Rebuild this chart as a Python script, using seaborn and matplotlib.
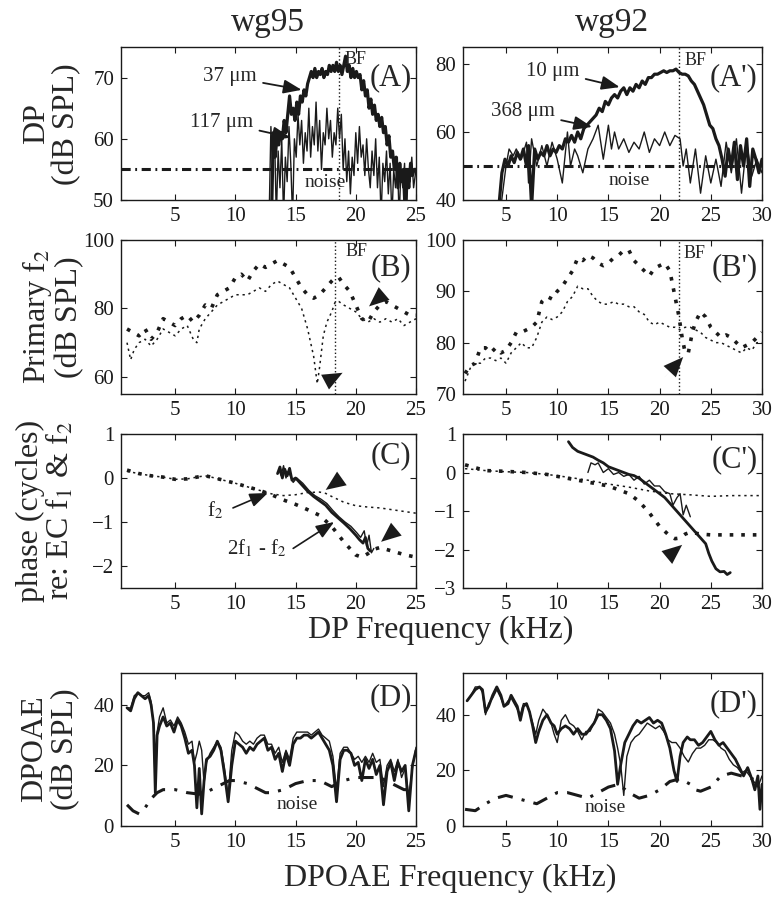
import matplotlib
matplotlib.use("Agg")
import matplotlib.pyplot as plt
import seaborn as sns
import numpy as np

# ---------------- DATA ----------------
# Panel A (wg95) DP level
A_thick_x = [13.0,13.15,13.3,13.45,13.6,13.75,13.9,14.05,14.2,14.35,14.5,14.65,14.8,14.95,15.1,15.25,15.4,15.55,15.7,15.85,16.0,16.15,16.3,16.45,16.6,16.75,16.9,17.05,17.2,17.35,17.5,17.65,17.8,17.95,18.1,18.25,18.4,18.55,18.7,18.85,19.0,19.15,19.3,19.45,19.6,19.75,19.9,20.05,20.2,20.35,20.5,20.65,20.8,20.95,21.1,21.25,21.4,21.55,21.7,21.85,22.0,22.15,22.3,22.45,22.6,22.75,22.9,23.05,23.2,23.35,23.5,23.65,23.8,23.95,24.1,24.25,24.4,24.55,24.7,24.85,25.0]
A_thick_y = [47,61,57,60,59,61,60,63,61,64,67,64,65,63,66,64,67,66,68,67,69,70,71,70,71.5,70,71,70.5,71.5,70,71,70.5,72,71,72,71,72.5,71,72,70.5,72,73.5,71,72,70,71.5,70,71,70,70.5,68,69.5,67,68,65,66.5,64,65.5,63,64,62,63.5,61,62,59,60.5,57,58,55,57,52,56,53,55,48,55,52,56,54,55,55]
A_thin_x = [12.8,12.95,13.1,13.25,13.4,13.55,13.7,13.85,14.0,14.15,14.3,14.45,14.6,14.75,14.9,15.05,15.2,15.35,15.5,15.65,15.8,15.95,16.1,16.25,16.4,16.55,16.7,16.85,17.0,17.15,17.3,17.45,17.6,17.75,17.9,18.05,18.2,18.35,18.5,18.65,18.8,18.95,19.1,19.25,19.4,19.55,19.7,19.85,20.0,20.15,20.3,20.45,20.6,20.75,20.9,21.05,21.2,21.35,21.5,21.65,21.8,21.95,22.1,22.25,22.4,22.55,22.7,22.85,23.0,23.15,23.3,23.45,23.6,23.75,23.9,24.05,24.2,24.35,24.5,24.65,24.8,25.0]
A_thin_y = [47,62,55,61,47,58,52,60,47,57,53,62,56,47,60,57,64,59,63,56,61,58,65,57,62,59,66,58,63,55,61,59,65,60,63,57,61,59,65,60,64,55,60,53,58,51,57,54,61,56,62,57,59,54,60,55,52,58,54,60,52,57,47,56,53,58,51,56,47,55,52,57,47,55,52,56,47,55,53,57,52,55]
A_noise_x = [0.5, 25.0]
A_noise_y = [55, 55]
A_bf = 18.6

# Panel A' (wg92) DP level
Ap_thick_x = [4.3,4.6,4.9,5.2,5.5,5.8,6.1,6.4,6.7,7.0,7.2,7.5,7.8,8.1,8.4,8.7,9.0,9.3,9.6,9.9,10.2,10.5,10.8,11.1,11.4,11.7,12.0,12.3,12.6,12.9,13.2,13.5,13.8,14.1,14.4,14.7,15.0,15.3,15.6,15.9,16.2,16.5,16.8,17.1,17.4,17.7,18.0,18.3,18.6,18.9,19.2,19.5,19.8,20.1,20.4,20.7,21.0,21.3,21.6,21.9,22.2,22.5,22.8,23.1,23.4,23.7,24.0,24.3,24.6,24.9,25.2,25.5,25.8,26.1,26.4,26.7,27.0,27.3,27.6,27.9,28.2,28.5,28.8,29.1,29.4,29.7,30.0]
Ap_thick_y = [38,48,52,50,53,51,54,52,55,50,56,38,55,52,54,53,56,53,55,54,56,55,58,57,59,57,60,58,61,62,63,64,65,67,66,69,68,70,71,70,72,73,71,73,72,74,73,75,74,76,76,77,77,77.5,78,77.5,78,78,78.5,77.5,77,77,76.5,75,74,72,70,68,65,62,61,58,56,52,47,55,50,57,46,56,50,58,44,55,52,48,52]
Ap_thin_x = [4.5,5.0,5.3,5.7,6.0,6.5,7.0,7.2,7.5,8.0,8.5,9.0,9.5,10.0,10.5,11.0,11.3,11.7,12.0,12.5,13.0,13.5,14.0,14.5,15.0,15.3,15.6,16.0,16.5,17.0,17.5,18.0,18.5,19.0,19.5,20.0,20.5,21.0,21.5,22.0,22.3,22.6,23.0,23.5,24.0,24.5,25.0,25.5,26.0,26.5,27.0,27.5,28.0,28.5,29.0,29.5,30.0]
Ap_thin_y = [38,50,55,53,55,52,57,45,58,50,56,50,57,52,45,60,50,55,53,48,55,58,62,52,62,55,60,55,58,54,57,55,60,54,58,56,60,56,59,58,50,55,45,55,42,53,45,52,44,57,48,58,42,57,47,52,48]
Ap_noise_x = [0.8, 30.0]
Ap_noise_y = [50, 50]
Ap_bf = 21.9

# Panel B (wg95) primary f2 level
B_x = [1.0,1.5,2.0,2.5,3.0,3.5,4.0,4.5,5.0,5.5,6.0,6.5,7.0,7.5,8.0,8.5,9.0,9.5,10.0,10.5,11.0,11.5,12.0,12.5,13.0,13.5,14.0,14.5,15.0,15.5,16.0,16.5,17.0,17.5,18.0,18.3,18.6,19.0,19.5,20.0,20.5,21.0,21.5,22.0,22.5,23.0,23.5,24.0,24.5,25.0]
B_upper = [74,73,72,74,71,73,77,76,75,77,78,76,78,81,80,84,85,86,89,90,88,91,93,92,93,94,93,92,89,86,84,83,84,86,88,89,89,87,85,81,77,76,79,81,82,81,80,79,78,78]
B_lower_x = [1.0,1.3,1.6,2.0,2.5,3.0,3.5,4.0,4.5,5.0,5.5,6.0,6.5,6.8,7.0,7.5,8.0,8.5,9.0,9.5,10.0,10.5,11.0,11.5,12.0,12.5,13.0,13.5,14.0,14.5,15.0,15.5,16.0,16.5,16.8,17.0,17.3,17.6,18.0,18.3,18.6,19.0,19.5,20.0,20.5,21.0,21.5,22.0,22.5,23.0,23.5,24.0,24.5,25.0]
B_lower = [70,65,68,70,71,69,71,74,73,72,74,75,71,70,74,77,79,81,82,83,84,84,84,85,86,85,87,88,87,86,83,80,74,66,58,63,72,76,79,82,82,81,80,79,77,76,77,76,77,76,77,75,76,77]
B_bf = 18.3

# Panel B' (wg92)
Bp_x = [1.0,1.5,2.0,2.5,3.0,3.5,4.0,4.5,5.0,5.5,6.0,6.5,7.0,7.5,8.0,8.5,9.0,9.5,10.0,10.5,11.0,11.5,12.0,12.5,13.0,13.5,14.0,14.5,15.0,15.5,16.0,16.5,17.0,17.5,18.0,18.5,19.0,19.5,20.0,20.5,21.0,21.3,21.6,21.9,22.2,22.5,22.8,23.2,23.5,24.0,24.5,25.0,25.5,26.0,26.5,27.0,27.5,28.0,28.5,29.0,29.5,30.0]
Bp_upper = [74,75.5,76,79,79,78,79,78,78.5,80,82,82,82.5,83,84,88,89,88.5,90,91,92.5,94,96.5,96,97,96.5,95.5,95,95.5,96.5,97,98,98,96,95,94,93,94.5,95,95.5,94,91,88,85,81,78,78,82,84,86,85,83,82,81,81.5,81,80,79,79.5,80,81,82]
Bp_lower_x = [1.0,1.5,2.0,2.5,3.0,3.5,4.0,4.5,5.0,5.5,6.0,6.5,7.0,7.5,8.0,8.5,9.0,9.5,10.0,10.5,11.0,11.5,12.0,12.5,13.0,13.5,14.0,14.5,15.0,15.5,16.0,16.5,17.0,17.5,18.0,18.5,19.0,19.5,20.0,20.5,21.0,21.5,22.0,22.5,23.0,23.5,24.0,24.5,25.0,25.5,26.0,26.5,27.0,27.5,28.0,28.5,29.0,29.5,30.0]
Bp_lower = [72.5,75,76,76,77,77,76.5,77,76,78,79,80,79,79,81,84,85,84.5,85,86,88,89,91,90.5,90.5,89,88,87.5,87.5,88,87.5,87.5,87,87,86,85.5,84,83.5,84,83.5,83,83,82.5,83,83,82.5,82,81,80.5,80,80,79.5,79,78.5,78,79,78.5,80,80]
Bp_bf = 21.9

# Panel C (wg95) phase
C_f2_x = [1,2,3,4,5,6,7,7.5,8,9,10,11,12,13,14,15,16,17,17.5,18,19,20,21,22,23,24,25]
C_f2_y = [0.15,0.1,0.05,0.02,-0.03,-0.02,0.03,0.05,0.02,-0.05,-0.12,-0.2,-0.28,-0.36,-0.4,-0.38,-0.33,-0.32,-0.35,-0.42,-0.55,-0.63,-0.66,-0.68,-0.72,-0.76,-0.8]
C_dp_x = [1,2,3,4,5,6,7,7.5,8,9,10,11,12,13,14,15,16,17,18,19,20,20.5,21,21.5,22,23,24,25]
C_dp_y = [0.18,0.1,0.05,0.02,-0.03,-0.02,0.03,0.05,0.02,-0.05,-0.12,-0.2,-0.28,-0.38,-0.5,-0.6,-0.72,-0.85,-1.1,-1.45,-1.75,-1.8,-1.72,-1.62,-1.58,-1.66,-1.74,-1.8]
C_thick_x = [13.5,13.7,13.9,14.1,14.3,14.5,14.7,15.0,15.5,16.0,16.5,17.0,17.5,18.0,18.5,19.0,19.5,20.0,20.3,20.6,20.8,21.0,21.2]
C_thick_y = [0.1,0.25,0.0,0.2,0.05,0.22,-0.05,0.0,-0.15,-0.3,-0.42,-0.52,-0.62,-0.78,-0.9,-1.02,-1.15,-1.3,-1.4,-1.48,-1.35,-1.6,-1.66]
C_thin_x = [13.6,13.8,14.0,14.2,14.4,14.6,14.8,15.1,15.6,16.1,16.6,17.1,17.6,18.1,18.6,19.1,19.6,20.1,20.4,20.7,20.9,21.1,21.3,21.5]
C_thin_y = [0.2,0.05,0.28,0.0,0.15,0.02,-0.1,0.0,-0.12,-0.28,-0.4,-0.48,-0.58,-0.74,-0.88,-1.0,-1.1,-1.25,-1.35,-1.2,-1.55,-1.3,-1.7,-1.6]

# Panel C' (wg92)
Cp_f2_x = [1,3,5,7,9,11,13,15,17,19,21,23,25,27,30]
Cp_f2_y = [0.1,0.05,0.02,0.0,-0.05,-0.12,-0.2,-0.3,-0.38,-0.48,-0.55,-0.58,-0.62,-0.6,-0.6]
Cp_dp_x = [1,3,5,7,9,10,11,12,13,14,15,16,17,18,19,20,21,21.5,22,22.5,23,24,25,27,30]
Cp_dp_y = [0.2,0.05,0.03,0.0,-0.05,-0.1,-0.15,-0.2,-0.25,-0.3,-0.35,-0.45,-0.55,-0.75,-1.05,-1.4,-1.65,-1.72,-1.7,-1.6,-1.55,-1.6,-1.62,-1.62,-1.62]
Cp_thick_x = [11.1,11.5,12,12.5,13,13.5,14,14.5,15,15.5,16,16.5,17,17.5,18,18.5,19,19.5,20,20.5,21,21.5,22,22.5,23,23.5,24,24.5,24.8,25.1,25.5,25.9,26.3,26.6,26.9]
Cp_thick_y = [0.8,0.65,0.55,0.5,0.45,0.4,0.32,0.25,0.15,0.1,0.05,0.0,-0.05,-0.08,-0.15,-0.25,-0.35,-0.45,-0.55,-0.65,-0.8,-0.95,-1.1,-1.25,-1.4,-1.55,-1.7,-1.85,-2.1,-2.3,-2.5,-2.58,-2.57,-2.65,-2.6]
Cp_thin_x = [13.0,13.3,13.7,14.0,14.5,15.0,15.5,16.0,16.5,17.0,17.5,18.0,18.5,19.0,19.5,20.0,20.5,21.0,21.3,21.7,22.0,22.3,22.6,23.0]
Cp_thin_y = [0.0,0.25,0.2,0.25,0.0,0.1,-0.05,0.0,-0.1,-0.05,-0.2,-0.1,-0.3,-0.2,-0.35,-0.35,-0.5,-0.55,-0.85,-0.65,-0.55,-1.1,-0.85,-1.15]

# Panel D (wg95) DPOAE
D_x = [1.0,1.3,1.6,1.9,2.2,2.5,2.8,3.0,3.2,3.35,3.5,3.7,4.0,4.3,4.6,4.9,5.2,5.5,5.8,6.1,6.4,6.6,6.8,7.0,7.2,7.4,7.6,7.9,8.2,8.5,8.8,9.1,9.4,9.7,10.0,10.3,10.6,10.9,11.2,11.5,11.8,12.1,12.4,12.7,13.0,13.3,13.6,13.9,14.2,14.5,14.8,15.1,15.4,15.7,16.0,16.3,16.6,16.9,17.2,17.5,17.8,18.1,18.4,18.7,19.0,19.3,19.6,19.9,20.2,20.5,20.8,21.1,21.4,21.7,22.0,22.3,22.6,22.9,23.2,23.5,23.8,24.1,24.4,24.7,25.0]
D_thick = [39,38,42,44,43,42,43,40,34,11,30,33,36,33,34,31,35,33,29,24,25,20,6,19,4,15,22,23,25,28,25,17,8,20,28,27,26,24,26,25,27,28,29,25,26,22,24,18,24,20,27,29,29,30,30,29,30,31,29,27,25,20,8,22,25,25,24,20,21,15,22,19,22,17,20,7,18,21,15,21,18,20,5,20,25]
D_thin = [39,39,43,44,43,43,44,41,33,12,31,36,39,34,35,33,36,34,31,27,28,21,24,28,25,14,21,24,26,28,26,19,10,25,31,30,28,27,28,27,29,30,30,27,27,24,26,21,25,22,29,31,31,31,31,30,31,32,30,29,28,23,12,24,26,26,24,22,23,21,23,21,24,21,22,13,20,22,18,22,16,19,10,19,26]
D_noise_x = [1.0,1.5,2.0,2.5,3.0,3.5,4.0,5.0,5.5,6.0,7.0,7.5,8.0,9.0,9.5,10.0,11.0,12.0,12.5,13.0,14.0,15.0,16.0,17.0,17.5,18.0,19.0,20.0,21.0,22.0,23.0,24.0,25.0]
D_noise = [7,5,4,6,9,11,12,12,11.5,11,10.5,11,12,14,15,15,14,12,11,11,12,14,15,15,14,13,15,16,16,16,14,12,12]

# Panel D' (wg92)
Dp_x = [1.2,1.6,2.0,2.4,2.7,3.0,3.3,3.7,4.1,4.5,4.8,5.2,5.5,5.8,6.1,6.4,6.7,7.0,7.3,7.6,7.9,8.2,8.6,9.0,9.4,9.7,10.0,10.4,10.8,11.2,11.6,12.0,12.4,12.8,13.2,13.6,14.0,14.4,14.8,15.2,15.6,15.9,16.2,16.6,17.0,17.4,17.8,18.2,18.6,19.0,19.4,19.8,20.2,20.6,21.0,21.4,21.7,22.0,22.3,22.7,23.0,23.4,23.8,24.2,24.6,25.0,25.4,25.8,26.2,26.6,27.0,27.4,27.8,28.2,28.6,29.0,29.3,29.6,29.8,30.0]
Dp_thick = [45,47,49,50,49,41,43,47,50,47,43,44,47,45,43,38,43,44,41,36,30,34,38,40,37,36,33,35,36,35,33,35,33,33,35,37,40,40,38,35,27,15,22,30,33,36,38,37,38,39,37,38,37,33,28,20,16,25,30,32,31,31,29,30,32,34,31,29,30,28,26,24,21,18,21,17,13,18,6,15]
Dp_thin_x = [1.2,1.6,2.0,2.4,2.7,3.0,3.3,3.7,4.1,4.5,4.8,5.2,5.5,5.8,6.1,6.4,6.7,7.0,7.3,7.6,7.9,8.2,8.6,9.0,9.4,9.7,10.0,10.4,10.8,11.2,11.6,12.0,12.4,12.8,13.2,13.6,14.0,14.4,14.8,15.2,15.6,15.9,16.2,16.5,16.8,17.2,17.6,18.0,18.4,18.8,19.2,19.6,20.0,20.4,20.8,21.2,21.6,22.0,22.4,22.8,23.2,23.6,24.0,24.4,24.8,25.2,25.6,26.0,26.4,26.8,27.2,27.6,28.0,28.4,28.8,29.2,29.6,30.0]
Dp_thin = [45,47,50,50,48,40,44,46,49,46,43,45,46,44,42,40,44,44,41,37,33,38,42,40,37,33,30,38,40,37,36,34,31,34,34,37,42,41,39,37,33,28,22,11,25,30,32,33,35,37,36,35,36,34,31,30,30,28,25,23,26,28,28,29,31,31,30,28,27,24,22,21,19,20,18,16,14,18]
Dp_noise_x = [1,2,3,4,5,6,7,8,9,10,11,12,13,14,15,16,17,18,19,20,21,22,23,23.5,24,25,26,27,28,29,30]
Dp_noise = [6,5.5,8,10,11,10,9,8,10,12,12,11,10,12,14,15,12,10,11,13,16,17,15,13,12.5,14,18,19,18,17,16]

# ---------------- STYLE ----------------
sns.set_theme(style="ticks")
plt.rcParams["font.family"] = ["Liberation Serif", "DejaVu Serif"]
plt.rcParams["mathtext.fontset"] = "stix"

fig = plt.figure(figsize=(7.73, 8.97), dpi=100)
W, H = 773.0, 897.0

def mk_ax(left, right, top, bottom):
    return fig.add_axes([left / W, 1 - bottom / H, (right - left) / W, (bottom - top) / H])

L = (121, 416)
R = (463, 762)
rows = [(47, 200), (240, 394), (434, 588), (673, 826)]

axA = mk_ax(L[0], L[1], *rows[0]); axAp = mk_ax(R[0], R[1], *rows[0])
axB = mk_ax(L[0], L[1], *rows[1]); axBp = mk_ax(R[0], R[1], *rows[1])
axC = mk_ax(L[0], L[1], *rows[2]); axCp = mk_ax(R[0], R[1], *rows[2])
axD = mk_ax(L[0], L[1], *rows[3]); axDp = mk_ax(R[0], R[1], *rows[3])

def line(ax, x, y, lw, ls="-"):
    sns.lineplot(x=x, y=y, ax=ax, color="k", lw=lw, linestyle=ls,
                 estimator=None, sort=False)

def style(ax, xlim, ylim, yticks, label, ly):
    ax.set_xlim(*xlim); ax.set_ylim(*ylim)
    if xlim[1] > 26:
        ax.set_xticks([5, 10, 15, 20, 25, 30])
    else:
        ax.set_xticks([5, 10, 15, 20, 25])
    ax.set_yticks(yticks)
    ax.tick_params(direction="in", top=True, right=True, length=4, width=0.8,
                   labelsize=15, pad=5, colors="k")
    for s in ax.spines.values():
        s.set_linewidth(1.0); s.set_color("k"); s.set_visible(True)
    ax.set_xlabel(""); ax.set_ylabel("")
    ax.text(0.985, ly, label, transform=ax.transAxes, ha="right", va="center", fontsize=22)

def head(ax, tip, base):
    # filled arrowhead only (shaft drawn with ~zero width)
    ax.annotate("", xy=tip, xytext=base,
                arrowprops=dict(arrowstyle="-|>,head_length=0.95,head_width=0.4",
                                color="k", lw=0.01, shrinkA=0, shrinkB=0, mutation_scale=15))

def arrow_text(ax, text, xy, xytext, ha="right", fs=15):
    ax.annotate(text, xy=xy, xytext=xytext, ha=ha, va="center", fontsize=fs,
                arrowprops=dict(arrowstyle="-|>,head_length=0.65,head_width=0.25",
                                color="k", lw=1.3, shrinkA=2, shrinkB=0, mutation_scale=17))

noise_ls = (0, (3, 1.5, 0.6, 1.5))
noise_ls2 = (0, (5, 3, 1, 3))
dot_thick = (0, (1, 2.2))
dot_thin = (0, (1.5, 2.5))

# ---- A
line(axA, A_noise_x, A_noise_y, 2.2, noise_ls)
line(axA, A_thin_x, A_thin_y, 1.0)
line(axA, A_thick_x, A_thick_y, 2.3)
axA.axvline(A_bf, color="k", lw=1.0, ls=":")
axA.annotate("BF", xy=(A_bf, 75), xytext=(4, -9), textcoords="offset points", fontsize=13, ha="left", va="center")
axA.text(17.5, 52.8, "noise", fontsize=14, ha="center", va="center")
arrow_text(axA, "37 \u03bcm", xy=(15.5, 68.0), xytext=(11.8, 70.1))
arrow_text(axA, "117 \u03bcm", xy=(14.6, 60.2), xytext=(11.5, 62.7))
style(axA, (0.5, 25), (50, 75), [50, 60, 70], "(A)", 0.80)

# ---- A'
line(axAp, Ap_noise_x, Ap_noise_y, 2.2, noise_ls)
line(axAp, Ap_thin_x, Ap_thin_y, 1.0)
line(axAp, Ap_thick_x, Ap_thick_y, 2.3)
axAp.axvline(Ap_bf, color="k", lw=1.0, ls=":")
axAp.annotate("BF", xy=(Ap_bf, 85), xytext=(4, -10), textcoords="offset points", fontsize=13, ha="left", va="center")
axAp.text(17.0, 45.6, "noise", fontsize=14, ha="center", va="center")
arrow_text(axAp, "10 \u03bcm", xy=(16.1, 73.2), xytext=(12.2, 77.9))
arrow_text(axAp, "368 \u03bcm", xy=(13.4, 61.5), xytext=(9.8, 65.9))
style(axAp, (0.8, 30), (40, 85), [40, 60, 80], "(A')", 0.80)

# ---- B
line(axB, B_lower_x, B_lower, 1.1, dot_thin)
line(axB, B_x, B_upper, 2.6, dot_thick)
axB.axvline(B_bf, color="k", lw=1.0, ls=":")
axB.annotate("BF", xy=(B_bf, 100), xytext=(7, -8), textcoords="offset points", fontsize=13, ha="left", va="center")
head(axB, tip=(18.9, 61.2), base=(17.3, 58.2))
head(axB, tip=(21.1, 80.6), base=(22.7, 85.4))
style(axB, (0.5, 25), (55, 100), [60, 80, 100], "(B)", 0.82)

# ---- B'
line(axBp, Bp_lower_x, Bp_lower, 1.1, dot_thin)
line(axBp, Bp_x, Bp_upper, 2.6, dot_thick)
axBp.axvline(Bp_bf, color="k", lw=1.0, ls=":")
axBp.annotate("BF", xy=(Bp_bf, 100), xytext=(3, -10), textcoords="offset points", fontsize=13, ha="left", va="center")
head(axBp, tip=(22.3, 77.2), base=(20.5, 73.3))
style(axBp, (0.8, 30), (70, 100), [70, 80, 90, 100], "(B')", 0.82)

# ---- C
line(axC, C_f2_x, C_f2_y, 1.1, dot_thin)
line(axC, C_dp_x, C_dp_y, 2.6, dot_thick)
line(axC, C_thin_x, C_thin_y, 1.0)
line(axC, C_thick_x, C_thick_y, 2.0)
axC.text(8.3, -0.73, "f$_2$", fontsize=15, ha="center", va="center")
axC.annotate("", xy=(12.7, -0.34), xytext=(9.8, -0.68),
             arrowprops=dict(arrowstyle="-|>,head_length=0.65,head_width=0.25", color="k", lw=1.2,
                             shrinkA=0, shrinkB=0, mutation_scale=17))
axC.text(11.8, -1.6, "2f$_1$ - f$_2$", fontsize=15, ha="center", va="center")
axC.annotate("", xy=(18.2, -1.0), xytext=(14.8, -1.6),
             arrowprops=dict(arrowstyle="-|>,head_length=0.65,head_width=0.25", color="k", lw=1.2,
                             shrinkA=0, shrinkB=0, mutation_scale=17))
head(axC, tip=(17.5, -0.27), base=(19.0, 0.02))
head(axC, tip=(22.1, -1.45), base=(23.6, -1.11))
style(axC, (0.5, 25), (-2.5, 1), [-2, -1, 0, 1], "(C)", 0.86)

# ---- C'
line(axCp, Cp_f2_x, Cp_f2_y, 1.1, dot_thin)
line(axCp, Cp_dp_x, Cp_dp_y, 2.6, dot_thick)
line(axCp, Cp_thin_x, Cp_thin_y, 1.0)
line(axCp, Cp_thick_x, Cp_thick_y, 2.0)
head(axCp, tip=(22.2, -1.88), base=(20.2, -2.32))
style(axCp, (0.8, 30), (-3, 1), [-3, -2, -1, 0, 1], "(C')", 0.83)

# ---- D
line(axD, D_noise_x, D_noise, 2.2, noise_ls2)
line(axD, D_x, D_thin, 1.0)
line(axD, D_x, D_thick, 2.0)
axD.text(15.1, 7.0, "noise", fontsize=14, ha="center", va="center")
style(axD, (0.5, 25), (0, 50.5), [0, 20, 40], "(D)", 0.84)

# ---- D'
line(axDp, Dp_noise_x, Dp_noise, 2.2, noise_ls2)
line(axDp, Dp_thin_x, Dp_thin, 1.0)
line(axDp, Dp_x, Dp_thick, 2.0)
axDp.text(14.7, 6.8, "noise", fontsize=14, ha="center", va="center")
style(axDp, (0.8, 30), (0, 55), [0, 20, 40], "(D')", 0.80)

# ---------------- figure texts ----------------
fig.text(268 / W, 1 - 23 / H, "wg95", ha="center", va="center", fontsize=24)
fig.text(612 / W, 1 - 23 / H, "wg92", ha="center", va="center", fontsize=24)
fig.text(52 / W, 1 - 124 / H, "DP\n(dB SPL)", rotation=90, ha="center", va="center",
         fontsize=23, multialignment="center", linespacing=1.05)
fig.text(52 / W, 1 - 317 / H, "Primary f$_2$\n(dB SPL)", rotation=90, ha="center", va="center",
         fontsize=23, multialignment="center", linespacing=1.05)
fig.text(46 / W, 1 - 511 / H, "phase (cycles)\nre: EC f$_1$ & f$_2$", rotation=90, ha="center", va="center",
         fontsize=23, multialignment="center", linespacing=1.0)
fig.text(50 / W, 1 - 749 / H, "DPOAE\n(dB SPL)", rotation=90, ha="center", va="center",
         fontsize=23, multialignment="center", linespacing=1.1)
fig.text(441 / W, 1 - 630 / H, "DP Frequency (kHz)", ha="center", va="center", fontsize=23)
fig.text(450 / W, 1 - 878 / H, "DPOAE Frequency (kHz)", ha="center", va="center", fontsize=23)

fig.savefig("out.png", dpi=100)
